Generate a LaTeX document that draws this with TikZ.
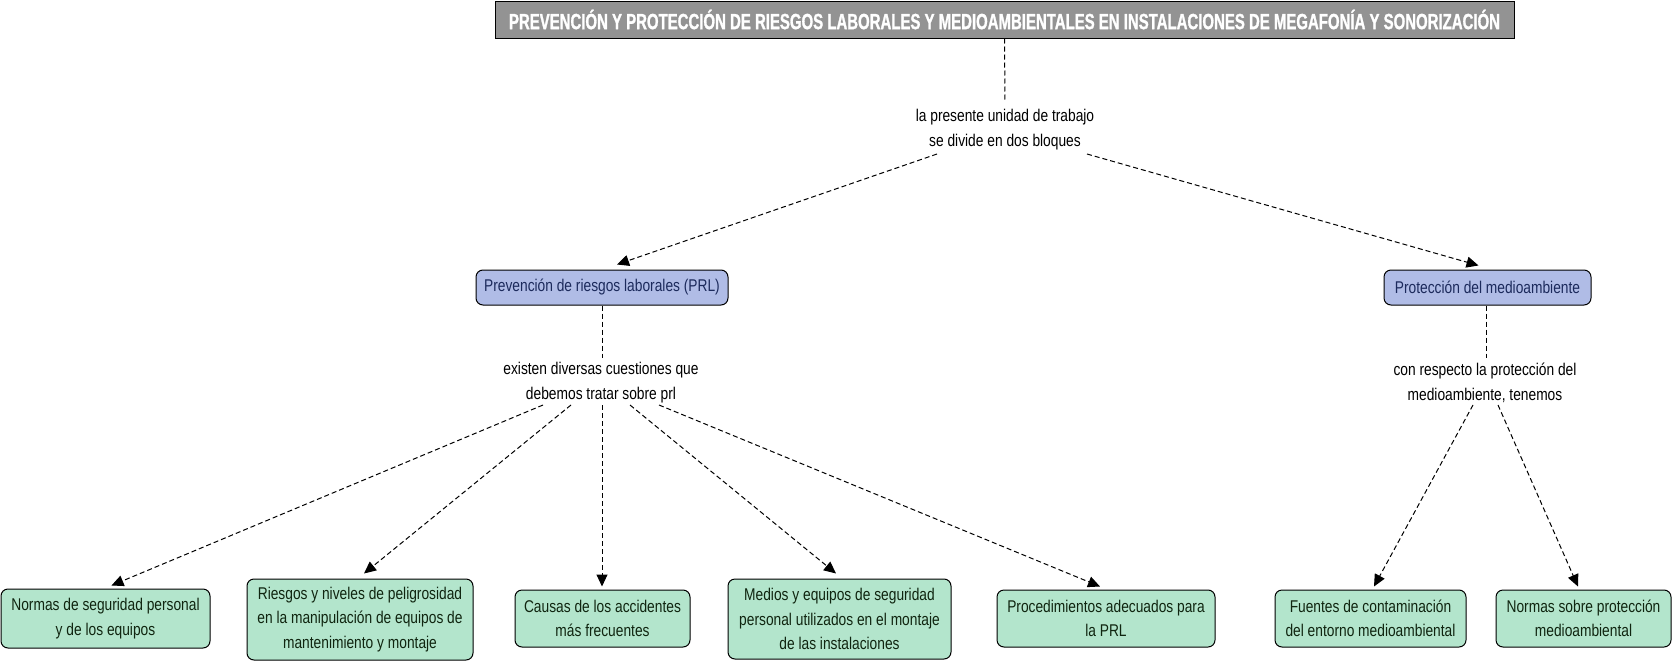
\documentclass[tikz,border=0pt]{standalone}
\usepackage{fontspec}
\setmainfont{Liberation Sans}[FakeStretch=0.81]
\newfontfamily\titlefont{Liberation Sans}[FakeStretch=0.68,FakeBold=1.2]
\usetikzlibrary{arrows.meta}
\definecolor{titlegray}{HTML}{939393}
\definecolor{bluefill}{HTML}{B0BCE6}
\definecolor{bluetext}{HTML}{1C2A5C}
\definecolor{greenfill}{HTML}{B3E5CC}
\definecolor{greentext}{HTML}{102510}
\tikzset{
  titlebox/.style={draw=black, line width=1pt, fill=titlegray, text=white, inner sep=0pt,
    font=\titlefont\bfseries\fontsize{22}{26}\selectfont},
  bluebox/.style={draw=black, line width=1pt, fill=bluefill, text=bluetext, rounded corners=7pt,
    inner sep=0pt, font=\fontsize{17}{24}\selectfont},
  greenbox/.style={draw=black, line width=1pt, fill=greenfill, text=greentext, rounded corners=7pt,
    inner sep=0pt, align=center, font=\fontsize{17}{24.5}\selectfont},
  lbl/.style={inner sep=0pt, align=center, text=black, font=\fontsize{17}{25}\selectfont},
  conn/.style={line width=1pt, dash pattern=on 5pt off 3pt},
  arr/.style={conn, -{Triangle[length=12pt,width=11pt]}}
}
\begin{document}
\begin{tikzpicture}[x=1pt,y=-1pt]
\path[use as bounding box, fill=white] (0,0) rectangle (1674,664);
\node[titlebox, minimum width=1019pt, minimum height=37pt] (title) at (1004.5,19.5)
  {PREVENCIÓN Y PROTECCIÓN DE RIESGOS LABORALES Y MEDIOAMBIENTALES EN INSTALACIONES DE MEGAFONÍA Y SONORIZACIÓN};
\node[lbl] (lab1) at (1005,130) {la presente unidad de trabajo\\se divide en dos bloques};
\node[bluebox, minimum width=252pt, minimum height=35pt] (prl) at (602,287.5) {Prevención de riesgos laborales (PRL)};
\node[bluebox, minimum width=207pt, minimum height=35pt] (pma) at (1487.5,287.5) {Protección del medioambiente};
\node[lbl] (lab2) at (601,383) {existen diversas cuestiones que\\debemos tratar sobre prl};
\node[lbl] (lab3) at (1485,383) {con respecto la protección del\\medioambiente, tenemos};
\node[greenbox, minimum width=209pt, minimum height=59pt] (b1) at (105.5,618.5) {Normas de seguridad personal\\y de los equipos};
\node[greenbox, minimum width=226pt, minimum height=81pt] (b2) at (360,619.5) {Riesgos y niveles de peligrosidad\\en la manipulación de equipos de\\mantenimiento y montaje};
\node[greenbox, minimum width=175pt, minimum height=57pt] (b3) at (602.5,618.5) {Causas de los accidentes\\más frecuentes};
\node[greenbox, minimum width=223pt, minimum height=80pt] (b4) at (839.5,619) {Medios y equipos de seguridad\\personal utilizados en el montaje\\de las instalaciones};
\node[greenbox, minimum width=218pt, minimum height=57pt] (b5) at (1106,618.5) {Procedimientos adecuados para\\la PRL};
\node[greenbox, minimum width=191pt, minimum height=57pt] (b6) at (1370.5,618.5) {Fuentes de contaminación\\del entorno medioambiental};
\node[greenbox, minimum width=175pt, minimum height=57pt] (b7) at (1583.5,618.5) {Normas sobre protección\\medioambiental};
% connectors
\draw[conn] (title.south) -- ([shift={(0,-29)}]lab1.center);
\draw[arr] ([shift={(-68,24)}]lab1.center) -- ([shift={(15,-5)}]prl.north);
\draw[arr] ([shift={(82,24)}]lab1.center) -- ([shift={(-9,-4)}]pma.north);
\draw[conn] (prl.south) -- ([shift={(1,-25)}]lab2.center);
\draw[conn] ([xshift=-1.5]pma.south) -- ([shift={(1,-25)}]lab3.center);
\draw[arr] ([shift={(-58,22)}]lab2.center) -- ([shift={(6,-3)}]b1.north);
\draw[arr] ([shift={(-30,22)}]lab2.center) -- ([shift={(4,-5)}]b2.north);
\draw[arr] ([shift={(1,22)}]lab2.center) -- ([shift={(-0.5,-3)}]b3.north);
\draw[arr] ([shift={(29,22)}]lab2.center) -- ([shift={(-3.5,-5)}]b4.north);
\draw[arr] ([shift={(58,22)}]lab2.center) -- ([shift={(-6,-3)}]b5.north);
\draw[arr] ([shift={(-12,22)}]lab3.center) -- ([shift={(3.5,-3)}]b6.north);
\draw[arr] ([shift={(13,22)}]lab3.center) -- ([shift={(-5.5,-3)}]b7.north);
\end{tikzpicture}
\end{document}
